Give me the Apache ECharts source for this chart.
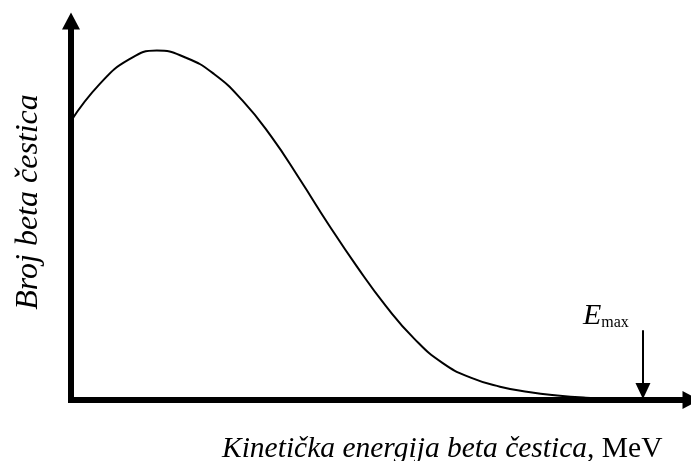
<!DOCTYPE html>
<html>
<head>
<meta charset="utf-8">
<script src="https://cdn.jsdelivr.net/npm/echarts@6/dist/echarts.min.js"></script>
<style>html,body{margin:0;padding:0;background:#fff;}#c{width:691px;height:461px;}</style>
</head>
<body>
<div id="c"></div>
<script>
// Energy (fraction of Emax) and relative number of beta particles
const energy = [0, 0.05, 0.10, 0.15, 0.20, 0.25, 0.30, 0.35, 0.40, 0.45, 0.50, 0.55, 0.60, 0.65, 0.70, 0.75, 0.80, 0.85, 0.90, 0.95, 1.0];
const counts = [79.5, 90.0, 96.9, 99.6, 97.6, 92.9, 85.3, 75.1, 62.9, 50.1, 38.0, 26.9, 17.5, 10.5, 6.3, 3.8, 2.3, 1.3, 0.66, 0.34, 0.11];
const emaxValue = 1.0;
const emaxArrow = [19.9, 2.6];
const xTitleItalic = 'Kinetička energija beta čestica';
const xTitleUnit = ', MeV';
const yTitle = 'Broj beta čestica';

const serif = '"Liberation Serif", "DejaVu Serif", serif';
const chart = echarts.init(document.getElementById('c'));
const axisLine = {
  show: true,
  symbol: ['none', 'triangle'],
  symbolSize: [18, 17],
  lineStyle: { color: '#000', width: 6, cap: 'square' }
};
chart.setOption({
  animation: false,
  backgroundColor: '#fff',
  grid: { left: 71, right: 0, top: 21, bottom: 61 },
  xAxis: {
    type: 'value', min: 0, max: 1.084,
    axisLine: axisLine, axisTick: { show: false }, axisLabel: { show: false }, splitLine: { show: false }
  },
  yAxis: {
    type: 'value', min: 0, max: 108,
    axisLine: axisLine, axisTick: { show: false }, axisLabel: { show: false }, splitLine: { show: false }
  },
  series: [{
    type: 'line',
    data: energy.map((e, i) => [e, counts[i]]),
    smooth: 0.5,
    showSymbol: false,
    lineStyle: { color: '#000', width: 2 },
    z: 1,
    markLine: {
      silent: true,
      symbol: ['none', 'triangle'],
      symbolSize: [15, 16],
      label: { show: false },
      lineStyle: { color: '#000', width: 2, type: 'solid' },
      data: [[{ coord: [emaxValue, emaxArrow[0]] }, { coord: [emaxValue, emaxArrow[1]] }]]
    }
  }],
  graphic: [
    {
      type: 'text', x: 222, y: 449,
      style: {
        text: '{i|' + xTitleItalic + '}{n|' + xTitleUnit + '}',
        verticalAlign: 'middle', align: 'left',
        rich: {
          i: { fontFamily: serif, fontStyle: 'italic', fontSize: 29.5, fill: '#000' },
          n: { fontFamily: serif, fontSize: 29.5, fill: '#000' }
        }
      }
    },
    {
      type: 'text', x: 29, y: 202, rotation: Math.PI / 2,
      style: {
        text: yTitle, fontFamily: serif, fontStyle: 'italic', fontSize: 32, fill: '#000',
        align: 'center', verticalAlign: 'middle'
      }
    },
    {
      type: 'text', x: 583, y: 316,
      style: {
        text: '{e|E}{m|max}',
        align: 'left', verticalAlign: 'middle',
        rich: {
          e: { fontFamily: serif, fontStyle: 'italic', fontSize: 30, fill: '#000', verticalAlign: 'bottom' },
          m: { fontFamily: serif, fontSize: 16, fill: '#000', padding: [14, 0, 0, 0], verticalAlign: 'bottom' }
        }
      }
    }
  ]
});
</script>
</body>
</html>
